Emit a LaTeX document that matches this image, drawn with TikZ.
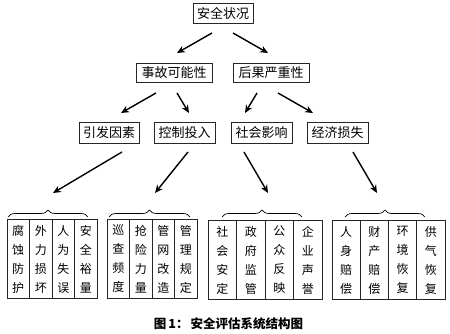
\documentclass[tikz,border=0pt]{standalone}
\usepackage{fontspec}
\setmainfont{Noto Sans CJK SC}
\usetikzlibrary{arrows.meta,decorations.pathreplacing}
\tikzset{
  hbox/.style={draw=black!85, line width=0.7pt, inner sep=0pt, minimum height=20pt, font=\fontsize{13}{15}\selectfont},
  col/.style={draw=black!85, line width=0.7pt, inner sep=0pt, minimum height=79pt, align=center, font=\fontsize{12}{19}\selectfont},
  arr/.style={line width=1.4pt, -{Stealth[length=8pt,width=7pt]}},
  brc/.style={line width=0.7pt, decorate, decoration={brace, amplitude=7pt}},
}
\begin{document}
\begin{tikzpicture}[x=1pt,y=-1pt]
\useasboundingbox (0,0) rectangle (450,334);
% level 1
\node[hbox, minimum width=60pt] (top) at (223,13) {安全状况};
% level 2
\node[hbox, minimum width=76pt, minimum height=19pt] (acc) at (174,72.5) {事故可能性};
\node[hbox, minimum width=76pt, minimum height=19pt] (con) at (271,72.5) {后果严重性};
% level 3
\node[hbox, minimum width=60pt, minimum height=21pt] (yf) at (109,132.5) {引发因素};
\node[hbox, minimum width=61pt, minimum height=21pt] (kz) at (184.5,132.5) {控制投入};
\node[hbox, minimum width=61pt, minimum height=21pt] (sh) at (261.5,132.5) {社会影响};
\node[hbox, minimum width=61pt, minimum height=21pt] (jj) at (337.5,132.5) {经济损失};
% arrow endpoints
\coordinate (a1s) at (212,33); \coordinate (a1e) at (177,53);
\coordinate (a2s) at (233,33); \coordinate (a2e) at (268,53);
\coordinate (b1s) at (156,93); \coordinate (b1e) at (121,113);
\coordinate (b2s) at (177,93); \coordinate (b2e) at (189,113);
\coordinate (b3s) at (257,93); \coordinate (b3e) at (245,113);
\coordinate (b4s) at (278,93); \coordinate (b4e) at (313,113);
\coordinate (c1s) at (122,152); \coordinate (c1e) at (53,193);
\coordinate (c2s) at (188,152); \coordinate (c2e) at (155,193);
\coordinate (c3s) at (244,152); \coordinate (c3e) at (268,193);
\coordinate (c4s) at (353,152); \coordinate (c4e) at (377,193);
\foreach \p in {a1,a2,b1,b2,b3,b4,c1,c2,c3,c4}{\draw[arr] (\p s) -- (\p e);}
% braces
\coordinate (g1l) at (8,217); \coordinate (g1r) at (88,217);
\coordinate (g2l) at (109,217); \coordinate (g2r) at (190,217);
\coordinate (g3l) at (222,217); \coordinate (g3r) at (302,217);
\coordinate (g4l) at (345,217); \coordinate (g4r) at (425,217);
\foreach \g in {g1,g2,g3,g4}{\draw[brc] (\g l) -- (\g r);}
% group 1
\node[col, minimum width=22.5pt] (p11) at (18.25,259) {腐\\蚀\\防\\护};
\node[col, minimum width=22.5pt] (p12) at (40.75,259) {外\\力\\损\\坏};
\node[col, minimum width=22.5pt] (p13) at (63.25,259) {人\\为\\失\\误};
\node[col, minimum width=22.5pt] (p14) at (85.75,259) {安\\全\\裕\\量};
% group 2
\node[col, minimum width=22.5pt] (p21) at (118.25,259) {巡\\查\\频\\度};
\node[col, minimum width=22.5pt] (p22) at (140.75,259) {抢\\险\\力\\量};
\node[col, minimum width=22.5pt] (p23) at (163.25,259) {管\\网\\改\\造};
\node[col, minimum width=22.5pt] (p24) at (185.75,259) {管\\理\\规\\定};
% group 3
\node[col, minimum width=28.5pt] (p31) at (222.25,260) {社\\会\\安\\定};
\node[col, minimum width=28.5pt] (p32) at (250.75,260) {政\\府\\监\\管};
\node[col, minimum width=28.5pt] (p33) at (279.25,260) {公\\众\\反\\映};
\node[col, minimum width=28.5pt] (p34) at (307.75,260) {企\\业\\声\\誉};
% group 4
\node[col, minimum width=28.25pt] (p41) at (346.1,260) {人\\身\\赔\\偿};
\node[col, minimum width=28.25pt] (p42) at (374.4,260) {财\\产\\赔\\偿};
\node[col, minimum width=28.25pt] (p43) at (402.6,260) {环\\境\\恢\\复};
\node[col, minimum width=28.25pt] (p44) at (430.9,260) {供\\气\\恢\\复};
% caption
\node[font=\fontsize{12.5}{14}\selectfont\bfseries, inner sep=0pt] (cap) at (228.5,324) {图\,1：\,安全评估系统结构图};
\end{tikzpicture}
\end{document}
